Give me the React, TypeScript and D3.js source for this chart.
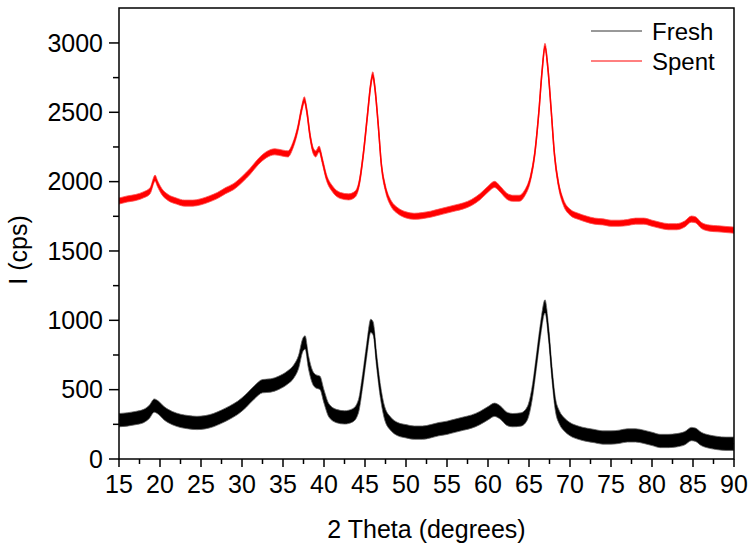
import React from "react";
import * as d3 from "d3";

const freshTheta = [15,16,17,18,18.7,19.3,19.8,20.5,21.5,22.5,23.5,24.5,25.5,26.5,27.5,28.5,29.5,30.5,31.5,32.5,33.5,34.5,35.5,36.3,36.9,37.4,37.7,38.1,38.6,39,39.5,40,40.6,41.5,42.5,43.5,44.2,44.7,45.2,45.7,46,46.4,46.9,47.4,48.2,49,50,51,52,53,54,55,56,57,58,59,60,60.8,61.5,62.3,63,64,64.8,65.4,65.9,66.4,66.95,67.4,67.8,68.2,68.7,69.3,70,71,72,73,74,75,76,77,78,79,80,81,82,83,84,84.8,85.3,86,87,88,89,90];
const freshI = [280,285,295,310,340,385,370,330,295,275,265,260,265,280,305,335,370,420,480,525,530,550,585,630,700,820,840,700,590,560,550,450,350,310,300,315,380,560,780,960,940,720,480,330,250,215,200,190,190,200,215,225,240,255,270,295,330,355,335,290,280,285,330,480,700,930,1100,900,620,400,300,250,215,190,175,165,155,155,160,170,170,160,145,130,130,135,150,180,175,145,125,115,110,110];

const spentTheta = [15,16,17,18,18.8,19.4,19.7,20.2,21,22,23,24,25,26,27,28,29,30,31,32,33,34,35,35.6,36.2,36.8,37.3,37.6,37.9,38.3,38.7,39,39.4,39.8,40.3,41,42,43,43.8,44.3,44.8,45.3,45.7,45.95,46.2,46.6,47,47.5,48.2,49,50,51,52,53,54,55,56,57,58,59,60,60.8,61.5,62.3,63,63.8,64.5,65.2,65.7,66.2,66.6,66.95,67.3,67.7,68.1,68.6,69.2,70,71,72,73,74,75,76,77,78,79,80,81,82,83,84,84.8,85.3,86,87,88,89,90];
const spentI = [1860,1875,1885,1905,1935,2025,1985,1930,1885,1860,1845,1845,1855,1875,1900,1935,1965,2015,2075,2145,2195,2215,2205,2200,2260,2380,2530,2590,2510,2330,2220,2200,2235,2150,2030,1950,1900,1890,1910,1990,2200,2480,2700,2770,2680,2420,2120,1950,1840,1790,1760,1750,1755,1765,1780,1795,1810,1825,1850,1890,1945,1980,1945,1895,1880,1880,1920,2030,2200,2500,2800,2975,2820,2520,2200,1980,1850,1780,1750,1730,1715,1710,1700,1700,1705,1715,1715,1700,1685,1675,1675,1695,1730,1725,1685,1665,1660,1655,1650];

const freshNoise = 48;
const spentNoise = 22;

const xTicks = [15,20,25,30,35,40,45,50,55,60,65,70,75,80,85,90];
const yTicks = [0,500,1000,1500,2000,2500,3000];
const seriesNames = ["Fresh", "Spent"];

const W = 756, H = 553;
const L = 119, R = 734, T = 8, B = 459;
const FONT = "Arial, 'Liberation Sans', sans-serif";

export default function App() {
  const x = d3.scaleLinear().domain([15, 90]).range([L, R]);
  const y = d3.scaleLinear().domain([0, 3252]).range([B, T]);

  const mk = (th: number[], v: number[]) => th.map((t, i) => ({ t, v: v[i] }));
  const fresh = mk(freshTheta, freshI);
  const spent = mk(spentTheta, spentI);

  const line = d3.line<{ t: number; v: number }>().x(d => x(d.t)).y(d => y(d.v)).curve(d3.curveMonotoneX);
  const band = (a: number) =>
    d3.area<{ t: number; v: number }>().x(d => x(d.t)).y0(d => y(d.v - a)).y1(d => y(d.v + a)).curve(d3.curveMonotoneX);

  const xMinor = d3.range(17.5, 90, 5);
  const yMinor = d3.range(250, 3250, 500);

  return (
    <svg width={W} height={H} style={{ position: "absolute", left: 0, top: 0, background: "#fff" }} fontFamily={FONT}>
      <defs>
        <clipPath id="plot"><rect x={L} y={T} width={R - L} height={B - T} /></clipPath>
      </defs>
      <g clipPath="url(#plot)">
        <path d={band(freshNoise)(fresh) || ""} fill="#000" stroke="#666" strokeWidth={0.8} />
        <path d={line(fresh) || ""} fill="none" stroke="#000" strokeWidth={1.2} />
        <path d={band(spentNoise)(spent) || ""} fill="#ff0000" stroke="#ff5050" strokeWidth={0.8} />
        <path d={line(spent) || ""} fill="none" stroke="#ff0000" strokeWidth={1.5} />
      </g>
      <rect x={L} y={T} width={R - L} height={B - T} fill="none" stroke="#000" strokeWidth={1.5} />
      {xTicks.map(t => (
        <g key={"x" + t}>
          <line x1={x(t)} x2={x(t)} y1={B} y2={B + 8} stroke="#000" strokeWidth={1.5} />
          <text x={x(t)} y={493} textAnchor="middle" fontSize={25}>{t}</text>
        </g>
      ))}
      {xMinor.map(t => (
        <line key={"xm" + t} x1={x(t)} x2={x(t)} y1={B} y2={B + 5} stroke="#000" strokeWidth={1.5} />
      ))}
      {yTicks.map(t => (
        <g key={"y" + t}>
          <line x1={L - 10} x2={L} y1={y(t)} y2={y(t)} stroke="#000" strokeWidth={1.5} />
          <text x={103} y={y(t)} dy="0.35em" textAnchor="end" fontSize={25}>{t}</text>
        </g>
      ))}
      {yMinor.map(t => (
        <line key={"ym" + t} x1={L - 6} x2={L} y1={y(t)} y2={y(t)} stroke="#000" strokeWidth={1.5} />
      ))}
      <text x={(L + R) / 2} y={538} textAnchor="middle" fontSize={25}>2 Theta (degrees)</text>
      <text transform="translate(27,250) rotate(-90)" textAnchor="middle" fontSize={25}>I (cps)</text>
      {seriesNames.map((n, i) => (
        <g key={n}>
          <line x1={591} x2={642} y1={31 + i * 30} y2={31 + i * 30} stroke={i === 0 ? "#333" : "#f00"} strokeWidth={1} />
          <text x={652} y={39.5 + i * 30} fontSize={24}>{n}</text>
        </g>
      ))}
    </svg>
  );
}
